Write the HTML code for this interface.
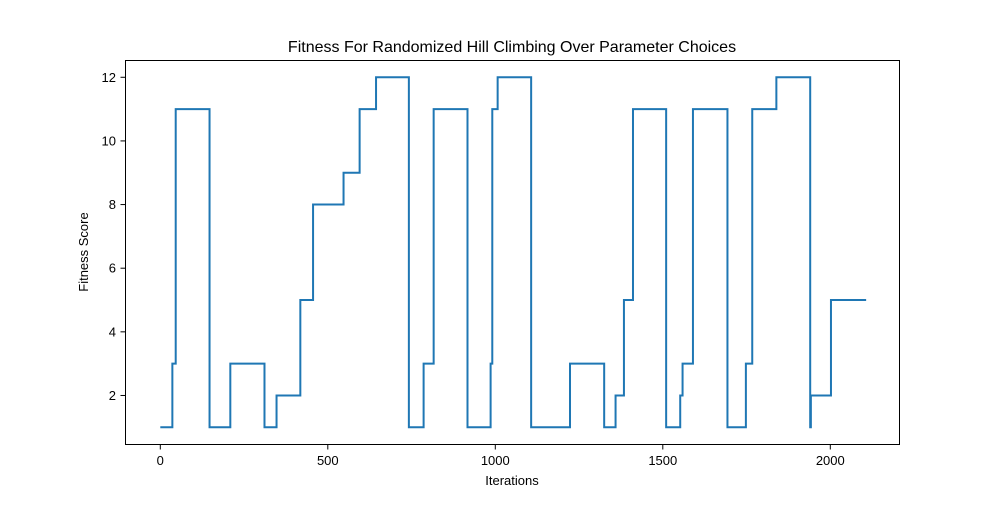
<!DOCTYPE html>
<html><head><meta charset="utf-8"><style>
body{margin:0;background:#fff;font-family:"Liberation Sans",sans-serif}
</style></head><body>
<svg width="1000" height="500" viewBox="0 0 1000 500">
<rect width="1000" height="500" fill="#fff"/>
<text x="512" y="52" text-anchor="middle" font-size="16">Fitness For Randomized Hill Climbing Over Parameter Choices</text>
<g id="axes"></g>
<path id="line" fill="none" stroke="#1f77b4" stroke-width="2" stroke-linejoin="miter"/>
<rect x="125.5" y="60.5" width="774" height="384" fill="none" stroke="#000" stroke-width="1"/>
<text x="512" y="485" text-anchor="middle" font-size="13">Iterations</text>
<text x="88" y="252" text-anchor="middle" font-size="13" transform="rotate(-90 88 252)">Fitness Score</text>
</svg>
<script>
const stepX=[0,36,46,147,209,311,347,418,456,547,595,644,742,786,816,917,986,991,1007,1107,1223,1325,1359,1384,1411,1510,1552,1559,1590,1693,1748,1767,1839,1940,1942,2002];
const stepY=[1,3,11,1,3,1,2,5,8,9,11,12,1,3,11,1,3,11,12,1,3,1,2,5,11,1,2,3,11,1,3,11,12,1,2,5];
const endX=2107;
const xTicks=[0,500,1000,1500,2000];
const yTicks=[2,4,6,8,10,12];
const NS="http://www.w3.org/2000/svg";
function sx(v){return 160.3+v*0.335;}
function sy(v){return 427.3-(v-1)*31.82;}
const axes=document.getElementById('axes');
xTicks.forEach(t=>{
  const l=document.createElementNS(NS,'line');
  l.setAttribute('x1',sx(t));l.setAttribute('x2',sx(t));l.setAttribute('y1',445);l.setAttribute('y2',449.5);l.setAttribute('stroke','#000');
  
  
  axes.appendChild(l);
  const tx=document.createElementNS(NS,'text');
  tx.setAttribute('x',sx(t));tx.setAttribute('y',465);tx.setAttribute('text-anchor','middle');tx.setAttribute('font-size','13');
  tx.textContent=t;
  
  
  axes.appendChild(tx);
});
yTicks.forEach(t=>{
  const l=document.createElementNS(NS,'line');
  l.setAttribute('x1',120.5);l.setAttribute('x2',125);l.setAttribute('y1',sy(t));l.setAttribute('y2',sy(t));l.setAttribute('stroke','#000');
  
  
  axes.appendChild(l);
  const tx=document.createElementNS(NS,'text');
  tx.setAttribute('x',116);tx.setAttribute('y',sy(t)+4.5);tx.setAttribute('text-anchor','end');tx.setAttribute('font-size','13');
  tx.textContent=t;
  
  
  axes.appendChild(tx);
});
let d='';
for(let i=0;i<stepX.length;i++){
  const x=sx(stepX[i]),y=sy(stepY[i]);
  d+=(i===0?'M':'L')+x+','+y;
  const nx=i+1<stepX.length?stepX[i+1]:endX;
  d+='L'+sx(nx)+','+y;
}
document.getElementById('line').setAttribute('d',d);
</script>
</body></html>
